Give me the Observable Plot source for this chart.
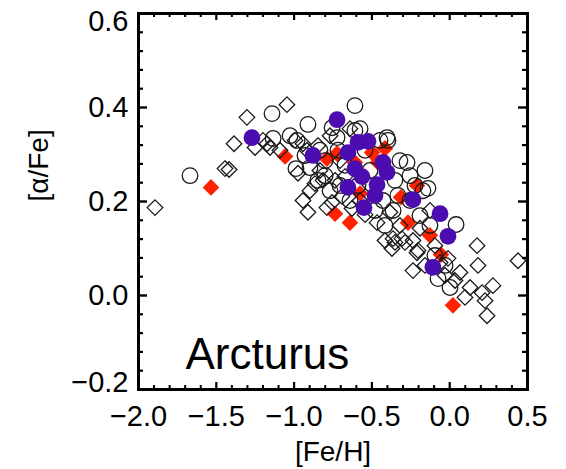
<!DOCTYPE html>
<html>
<head>
<meta charset="utf-8">
<script src="https://cdn.jsdelivr.net/npm/d3@7"></script>
<script src="https://cdn.jsdelivr.net/npm/@observablehq/plot@0.6"></script>
<style>
  html, body { margin: 0; padding: 0; background: #fff; }
  #chart svg { display: block; }
</style>
</head>
<body>
<div id="chart"></div>
<script>
// ---- data: [Fe/H], [alpha/Fe] ----
const openDiamondFeH = [-1.894,-1.444,-1.418,-1.386,-1.303,-1.251,-1.174,-1.155,-1.046,-0.994,-0.943,-0.917,-0.975,-0.898,-0.943,-0.911,-0.814,-0.789,-0.756,-0.866,-0.834,-0.737,-0.692,-0.673,-0.628,-0.544,-0.467,-0.416,-0.371,-0.352,-0.364,-0.307,-0.287,-0.236,-0.204,-0.210,-0.236,-0.191,-0.127,-0.011,0.066,0.098,0.131,0.176,0.182,0.208,0.278,0.227,0.240,0.439,-0.062,0.034,-0.030,-0.576,-0.512,-0.705,-0.847,-0.384,-0.320,-0.095,-0.159,-0.769,-0.641,-1.091,-1.200];
const openDiamondAlpha = [0.187,0.270,0.268,0.323,0.379,0.315,0.323,0.315,0.406,0.330,0.323,0.309,0.260,0.223,0.202,0.177,0.245,0.187,0.198,0.238,0.266,0.245,0.211,0.253,0.185,0.172,0.155,0.117,0.100,0.113,0.121,0.121,0.113,0.117,0.096,0.091,0.053,0.143,0.181,0.079,0.049,-0.004,0.017,0.106,0.064,0.006,0.021,-0.011,-0.043,0.074,0.070,0.032,0.043,0.202,0.234,0.287,0.319,0.177,0.149,0.106,0.064,0.340,0.355,0.309,0.330];

const openCircleFeH = [-1.669,-1.142,-1.135,-0.988,-0.911,-0.981,-0.898,-0.801,-0.756,-0.724,-0.609,-0.609,-0.576,-0.403,-0.397,-0.274,-0.159,-0.140,-0.172,-0.364,-0.429,0.041,-0.075,0.002,-0.030,-0.847,-0.769,-0.705,-0.673,-0.834,-0.544,-0.512,-0.352,-0.320,-0.255,-0.641,-0.480,-0.255,-0.191,-0.127,-0.333,-0.718,-1.026,-0.930,-0.589,-0.448,-0.801,-0.095,-0.416,-0.223];
const openCircleAlpha = [0.255,0.387,0.334,0.270,0.364,0.330,0.272,0.255,0.357,0.336,0.404,0.351,0.355,0.336,0.330,0.283,0.266,0.228,0.223,0.181,0.202,0.151,0.036,0.017,0.064,0.245,0.223,0.234,0.277,0.309,0.309,0.266,0.245,0.287,0.255,0.202,0.181,0.202,0.170,0.149,0.213,0.309,0.340,0.298,0.234,0.330,0.287,0.085,0.149,0.234];

const redFeH = [-1.534,-1.058,-0.789,-0.724,-0.609,-0.499,-0.416,-0.461,-0.576,-0.737,-0.641,-0.210,-0.313,-0.268,-0.127,-0.056,0.021];
const redAlpha = [0.230,0.296,0.291,0.302,0.283,0.304,0.313,0.283,0.217,0.174,0.155,0.234,0.209,0.155,0.128,0.087,-0.021];

const purpleFeH = [-1.271,-0.879,-0.724,-0.654,-0.589,-0.525,-0.609,-0.429,-0.403,-0.467,-0.654,-0.480,-0.551,-0.236,-0.062,-0.011,-0.108,-0.564];
const purpleAlpha = [0.336,0.298,0.374,0.304,0.326,0.328,0.270,0.283,0.262,0.236,0.230,0.213,0.187,0.204,0.174,0.126,0.060,0.253];

// ---- ticks & labels ----
const xMajorTicks = [-2.0,-1.5,-1.0,-0.5,0.0,0.5];
const xMinorTicks = [-1.9,-1.8,-1.7,-1.6,-1.4,-1.3,-1.2,-1.1,-0.9,-0.8,-0.7,-0.6,-0.4,-0.3,-0.2,-0.1,0.1,0.2,0.3,0.4];
const yMajorTicks = [-0.2,0.0,0.2,0.4,0.6];
const yMinorTicks = [-0.16,-0.12,-0.08,-0.04,0.04,0.08,0.12,0.16,0.24,0.28,0.32,0.36,0.44,0.48,0.52,0.56];
const xTitle = "[Fe/H]";
const yTitle = "[α/Fe]";
const starName = "Arcturus";

const zip = (xs, ys) => xs.map((x, i) => ({x, y: ys[i]}));
const openDiamonds = zip(openDiamondFeH, openDiamondAlpha);
const openCircles = zip(openCircleFeH, openCircleAlpha);
const redPts = zip(redFeH, redAlpha);
const purplePts = zip(purpleFeH, purpleAlpha);

const W = 566, H = 469;
const mL = 138, mR = 39, mT = 13, mB = 80;
const iw = W - mL - mR, ih = H - mT - mB;
const font = "'Liberation Sans', Arial, Helvetica, sans-serif";
const fmt = d => d3.format(".1f")(d).replace("-", "\u2212");
const yTop = yMajorTicks[yMajorTicks.length - 1];
const yBottom = yMajorTicks[0];
const yLabelStyle = {y: d => d, frameAnchor: "left", text: fmt, dx: -10, textAnchor: "end", lineAnchor: "middle", fontSize: 29, fill: "#000"};

const chart = Plot.plot({
  width: W, height: H,
  marginLeft: mL, marginRight: mR, marginTop: mT, marginBottom: mB,
  style: {fontFamily: font, background: "#fff", color: "#000"},
  x: {domain: [-2.0, 0.5], axis: null},
  y: {domain: [-0.2, 0.6], axis: null},
  marks: [
    Plot.dot(redPts, {x: "x", y: "y", symbol: "diamond2", r: 7.5, fill: "#ff2200", stroke: "none"}),
    Plot.dot(openDiamonds, {x: "x", y: "y", symbol: "diamond2", r: 7.0, fill: "none", stroke: "#1a1a1a", strokeWidth: 1.3}),
    Plot.dot(openCircles, {x: "x", y: "y", r: 7.8, fill: "none", stroke: "#1a1a1a", strokeWidth: 1.3}),
    Plot.dot(purplePts, {x: "x", y: "y", r: 8.4, fill: "#4b0db0", stroke: "none"}),
    // inward ticks, all four sides
    Plot.tickX(xMajorTicks, {x: d => d, insetTop: ih - 7, stroke: "#000", strokeWidth: 2.2}),
    Plot.tickX(xMinorTicks, {x: d => d, insetTop: ih - 4, stroke: "#000", strokeWidth: 2}),
    Plot.tickX(xMajorTicks, {x: d => d, insetBottom: ih - 7, stroke: "#000", strokeWidth: 2.2}),
    Plot.tickX(xMinorTicks, {x: d => d, insetBottom: ih - 4, stroke: "#000", strokeWidth: 2}),
    Plot.tickY(yMajorTicks, {y: d => d, insetRight: iw - 9, stroke: "#000", strokeWidth: 2.4}),
    Plot.tickY(yMinorTicks, {y: d => d, insetRight: iw - 5, stroke: "#000", strokeWidth: 2.2}),
    Plot.tickY(yMajorTicks, {y: d => d, insetLeft: iw - 9, stroke: "#000", strokeWidth: 2.4}),
    Plot.tickY(yMinorTicks, {y: d => d, insetLeft: iw - 5, stroke: "#000", strokeWidth: 2.2}),
    Plot.frame({stroke: "#000", strokeWidth: 3}),
    // tick labels
    Plot.text(xMajorTicks, {x: d => d, frameAnchor: "bottom", text: fmt, dy: 16, lineAnchor: "top", fontSize: 29, fill: "#000"}),
    Plot.text(yMajorTicks, {...yLabelStyle, filter: d => d !== yTop && d !== yBottom}),
    Plot.text(yMajorTicks, {...yLabelStyle, filter: d => d === yTop, dy: 8}),
    Plot.text(yMajorTicks, {...yLabelStyle, filter: d => d === yBottom, dy: -7}),
    // axis titles
    Plot.text([xTitle], {frameAnchor: "bottom", text: d => d, dy: 63, lineAnchor: "middle", fontSize: 28, fill: "#000"}),
    Plot.text([yTitle], {frameAnchor: "left", text: d => d, dx: -99, rotate: -90, lineAnchor: "middle", fontSize: 28, fill: "#000"}),
    // star name
    Plot.text([starName], {frameAnchor: "bottom-left", text: d => d, dx: 47, dy: -21, textAnchor: "start", lineAnchor: "bottom", fontSize: 44, fill: "#000"})
  ]
});
document.getElementById("chart").appendChild(chart);
</script>
</body>
</html>
